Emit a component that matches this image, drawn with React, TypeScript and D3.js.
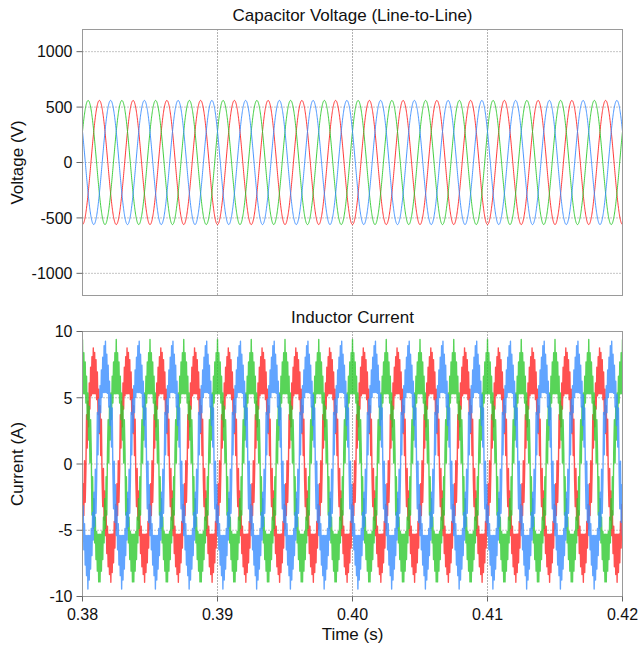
import React from "react";
import * as d3 from "d3";

// ---- Data ----
const timeDomain = [0.38, 0.42];
const timeTicks = [0.38, 0.39, 0.4, 0.41, 0.42];
const timeTickLabels = ["0.38", "0.39", "0.40", "0.41", "0.42"];
const voltageDomain = [-1200, 1200];
const voltageTicks = [-1000, -500, 0, 500, 1000];
const currentDomain = [-10, 10];
const currentTicks = [-10, -5, 0, 5, 10];

const seriesNames = ["Phase A", "Phase B", "Phase C"]; // red, green, blue
const fundamentalHz = 400;
const voltageAmplitude = [560, 560, 560];
const voltagePeakPhaseDeg = [180, 60, 300];
const currentAmplitude = [7.2, 7.3, 7.4];
const currentPeakPhaseDeg = [120, 0, 240];
const rippleHz = 10000;
const rippleFloor = [1.3, 1.3, 1.3]; // half-band away from the peaks (A)
const spikePeak = [9.1, 9.4, 9.6]; // tip of the ripple spike (A)
const spikeSlopePerDeg = [0.07, 0.07, 0.07]; // spike flank (A per degree)
const plateauLevel = [5.3, 5.3, 5.4]; // inner edge of the ripple band at the peaks (A)

// ---- Styles ----
const colors = ["#ff2424", "#2ec92e", "#3a8dff"];
const W = 642;
const H = 648;
const X0 = 82.5;
const X1 = 622.5;
const top1 = 29.5, bot1 = 295.5;
const top2 = 331.5, bot2 = 596.5;
const FONT = "'Liberation Sans', Arial, sans-serif";

function buildVoltage(i: number) {
  const pts: [number, number][] = [];
  const n = 3000;
  for (let k = 0; k <= n; k++) {
    const t = timeDomain[0] + ((timeDomain[1] - timeDomain[0]) * k) / n;
    const th = 2 * Math.PI * fundamentalHz * (t - timeDomain[0]) - (voltagePeakPhaseDeg[i] * Math.PI) / 180;
    pts.push([t, voltageAmplitude[i] * Math.cos(th)]);
  }
  return pts;
}

function buildCurrent(i: number) {
  const pts: [number, number][] = [];
  const n = Math.round((timeDomain[1] - timeDomain[0]) * rippleHz * 2);
  for (let k = 0; k <= n; k++) {
    const t = timeDomain[0] + ((timeDomain[1] - timeDomain[0]) * k) / n;
    const thDeg = 360 * fundamentalHz * (t - timeDomain[0]) - currentPeakPhaseDeg[i];
    const c = Math.cos((thDeg * Math.PI) / 180);
    const sign = c >= 0 ? 1 : -1;
    const m = Math.abs(c) * currentAmplitude[i];
    let d = ((thDeg % 180) + 180) % 180;
    d = Math.min(d, 180 - d);
    const outer = Math.max(m + rippleFloor[i], spikePeak[i] - spikeSlopePerDeg[i] * d);
    const inner = Math.min(m - rippleFloor[i], plateauLevel[i]);
    const v = k % 2 === 0 ? outer : inner;
    pts.push([t, sign * v]);
  }
  return pts;
}

export default function App() {
  const x = d3.scaleLinear().domain(timeDomain).range([X0, X1]);
  const yV = d3.scaleLinear().domain(voltageDomain).range([bot1, top1]);
  const yI = d3.scaleLinear().domain(currentDomain).range([bot2, top2]);

  const lineV = d3.line<[number, number]>().x((d) => x(d[0])).y((d) => yV(d[1]));
  const lineI = d3.line<[number, number]>().x((d) => x(d[0])).y((d) => yI(d[1]));

  const panel = (
    y: d3.ScaleLinear<number, number>,
    ticks: number[],
    top: number,
    bot: number,
    clipId: string,
    title: string,
    ylabel: string,
    paths: string[],
    showX: boolean,
    strokeW: number,
    opacity: number
  ) => (
    <g>
      <defs>
        <clipPath id={clipId}>
          <rect x={X0} y={top} width={X1 - X0} height={bot - top} />
        </clipPath>
      </defs>
      <text x={(X0 + X1) / 2} y={top - 9} textAnchor="middle" fontSize={17} fontFamily={FONT} fill="#111">
        {title}
      </text>
      {ticks.map((v) => (
        <line key={"h" + v} x1={X0} x2={X1} y1={y(v)} y2={y(v)} stroke="#8a8a8a" strokeWidth={1} strokeDasharray="1,2" />
      ))}
      {timeTicks.slice(1, -1).map((v) => (
        <line key={"v" + v} x1={x(v)} x2={x(v)} y1={top} y2={bot} stroke="#666" strokeWidth={1} strokeDasharray="1,2" />
      ))}
      <g clipPath={`url(#${clipId})`}>
        {paths.map((p, i) => (
          <path key={i} d={p} fill="none" stroke={colors[i]} strokeWidth={strokeW} strokeOpacity={opacity} strokeLinejoin="round" />
        ))}
      </g>
      <rect x={X0} y={top} width={X1 - X0} height={bot - top} fill="none" stroke="#9a9a9a" strokeWidth={1} />
      {ticks.map((v) => (
        <g key={"t" + v}>
          <line x1={X0 - 6} x2={X0} y1={y(v)} y2={y(v)} stroke="#666" strokeWidth={1} />
          <text x={X0 - 10} y={y(v)} dy="0.36em" textAnchor="end" fontSize={16} fontFamily={FONT} fill="#111">
            {v}
          </text>
        </g>
      ))}
      <text
        transform={`translate(23,${(top + bot) / 2}) rotate(-90)`}
        textAnchor="middle"
        fontSize={17}
        fontFamily={FONT}
        fill="#111"
      >
        {ylabel}
      </text>
      {showX &&
        timeTicks.map((v, i) => (
          <g key={"x" + v}>
            <line x1={x(v)} x2={x(v)} y1={bot} y2={bot + 5} stroke="#666" strokeWidth={1} />
            <text x={x(v)} y={bot + 23} textAnchor="middle" fontSize={16} fontFamily={FONT} fill="#111">
              {timeTickLabels[i]}
            </text>
          </g>
        ))}
      {showX && (
        <text x={(X0 + X1) / 2} y={bot + 43} textAnchor="middle" fontSize={17} fontFamily={FONT} fill="#111">
          Time (s)
        </text>
      )}
    </g>
  );

  const vPaths = seriesNames.map((_, i) => lineV(buildVoltage(i)) || "");
  const iPaths = seriesNames.map((_, i) => lineI(buildCurrent(i)) || "");

  return (
    <svg
      width={W}
      height={H}
      style={{ position: "absolute", left: 0, top: 0, display: "block", background: "#fff" }}
    >
      <rect x={0} y={0} width={W} height={H} fill="#fff" />
      {panel(yV, voltageTicks, top1, bot1, "clipV", "Capacitor Voltage (Line-to-Line)", "Voltage (V)", vPaths, false, 1, 0.9)}
      {panel(yI, currentTicks, top2, bot2, "clipI", "Inductor Current", "Current (A)", iPaths, true, 1.4, 0.8)}
    </svg>
  );
}
